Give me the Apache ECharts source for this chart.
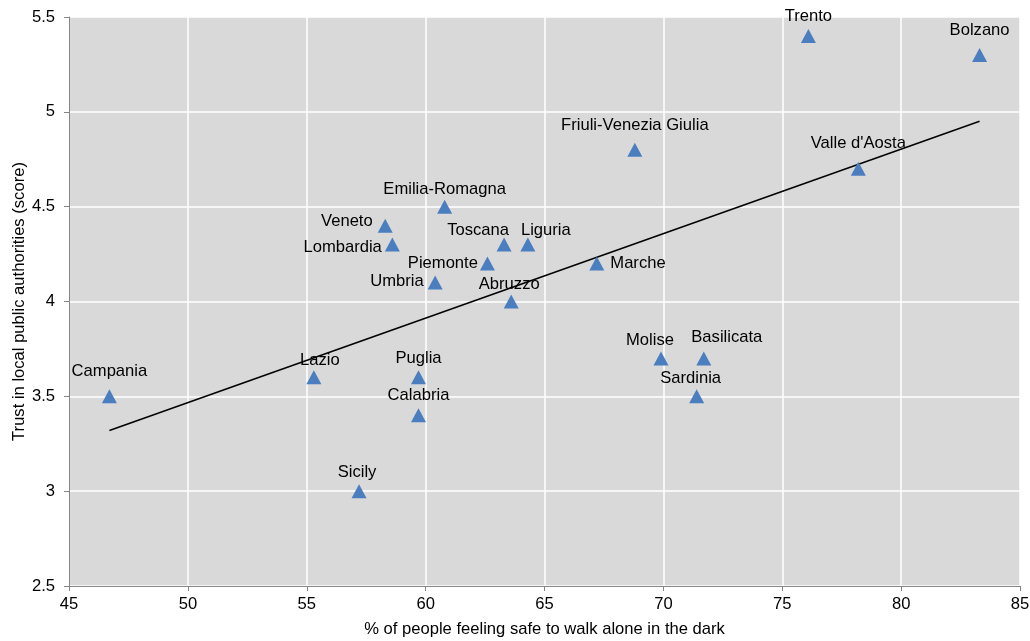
<!DOCTYPE html>
<html>
<head>
<meta charset="utf-8">
<script src="https://cdn.jsdelivr.net/npm/echarts@6/dist/echarts.min.js"></script>
<style>html,body{margin:0;padding:0;background:#fff;}#c{width:1030px;height:641px;}</style>
</head>
<body>
<div id="c"></div>
<script>
// Data
const regions = ["Trento","Bolzano","Friuli-Venezia Giulia","Valle d'Aosta","Emilia-Romagna","Veneto","Lombardia","Toscana","Liguria","Piemonte","Marche","Umbria","Abruzzo","Campania","Lazio","Puglia","Calabria","Sicily","Molise","Basilicata","Sardinia"];
const safeWalk = [76.1,83.3,68.8,78.2,60.8,58.3,58.6,63.3,64.3,62.6,67.2,60.4,63.6,46.7,55.3,59.7,59.7,57.2,69.9,71.7,71.4];
const trust = [5.4,5.3,4.8,4.7,4.5,4.4,4.3,4.3,4.3,4.2,4.2,4.1,4.0,3.5,3.6,3.6,3.4,3.0,3.7,3.7,3.5];
const trendX = [46.7, 83.3];
const trendY = [3.32, 4.95];
const xTicks = {min: 45, max: 85, step: 5};
const yTicks = {min: 2.5, max: 5.5, step: 0.5};

// Label placement (style only)
const labelStyle = {
  "Trento": ["top", 0, 1],
  "Bolzano": ["top", 0, -4],
  "Friuli-Venezia Giulia": ["top", 0, -4],
  "Valle d'Aosta": ["top", 0, -5],
  "Emilia-Romagna": ["top", 0, 3],
  "Veneto": ["left", 0, -4],
  "Lombardia": ["left", 2, 3],
  "Toscana": ["top", -26, 6],
  "Liguria": ["top", 18, 6],
  "Piemonte": ["left", 3, 0],
  "Marche": ["right", 1, 0],
  "Umbria": ["left", 1, -1],
  "Abruzzo": ["top", -2, 3],
  "Campania": ["top", 0, -4],
  "Lazio": ["top", 6, 4],
  "Puglia": ["top", 0, 2],
  "Calabria": ["top", 0, 1],
  "Sicily": ["top", -2, 2],
  "Molise": ["top", -11, 3],
  "Basilicata": ["top", 23, 0],
  "Sardinia": ["top", -6, 3]
};

const FONT = "Liberation Sans, Arial, sans-serif";
const FS = 16.6;
const points = regions.map((n, i) => {
  const s = labelStyle[n] || ["top", 0, 0];
  return {
    name: n,
    value: [safeWalk[i], trust[i]],
    label: { show: true, position: s[0], offset: [s[1], s[2]] }
  };
});

const chart = echarts.init(document.getElementById('c'));
chart.setOption({
  animation: false,
  backgroundColor: '#ffffff',
  grid: { left: 69, right: 10, top: 17, bottom: 55, show: true, backgroundColor: '#d9d9d9', borderWidth: 0, containLabel: false, outerBoundsMode: 'none' },
  xAxis: {
    type: 'value', min: xTicks.min, max: xTicks.max, interval: xTicks.step,
    name: '% of people feeling safe to walk alone in the dark',
    nameLocation: 'middle', nameGap: 35,
    nameTextStyle: { fontFamily: FONT, fontSize: FS, color: '#000' },
    axisLine: { show: true, lineStyle: { color: '#868686', width: 1 } },
    axisTick: { show: true, length: 5, lineStyle: { color: '#868686' } },
    axisLabel: { fontFamily: FONT, fontSize: FS, color: '#000', margin: 10 },
    splitLine: { show: true, lineStyle: { color: '#ffffff', width: 1.5 } }
  },
  yAxis: {
    type: 'value', min: yTicks.min, max: yTicks.max, interval: yTicks.step,
    name: 'Trust in local public authorities (score)',
    nameLocation: 'middle', nameGap: 41, nameMoveOverlap: false,
    nameTextStyle: { fontFamily: FONT, fontSize: FS, color: '#000' },
    axisLine: { show: true, lineStyle: { color: '#868686', width: 1 } },
    axisTick: { show: true, length: 5, lineStyle: { color: '#868686' } },
    axisLabel: { fontFamily: FONT, fontSize: FS, color: '#000', margin: 14 },
    splitLine: { show: true, lineStyle: { color: '#ffffff', width: 1.5 } }
  },
  series: [
    {
      type: 'line',
      data: trendX.map((x, i) => [x, trendY[i]]),
      symbol: 'none',
      lineStyle: { color: '#000000', width: 1.5 },
      z: 3,
      silent: true
    },
    {
      type: 'scatter',
      data: points,
      symbol: 'triangle',
      symbolSize: [15, 14],
      itemStyle: { color: '#4a7ebf', opacity: 1 },
      label: {
        show: true,
        formatter: '{b}',
        fontFamily: FONT, fontSize: FS, color: '#000',
        distance: 5
      },
      z: 4
    }
  ]
});
</script>
</body>
</html>
